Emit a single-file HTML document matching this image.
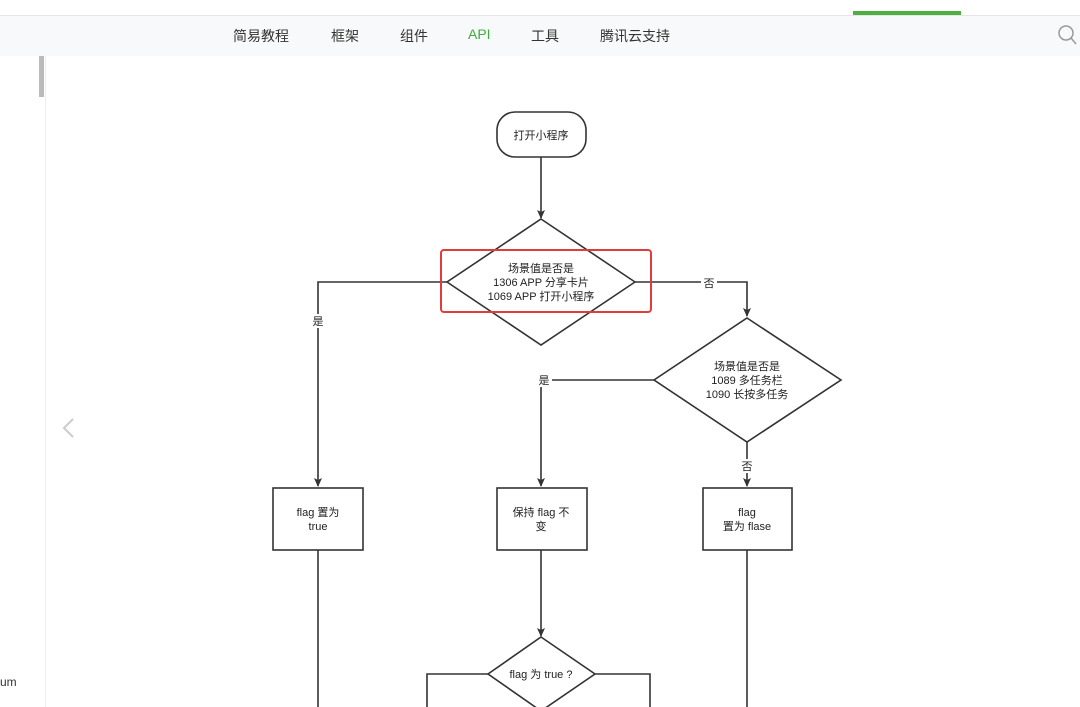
<!DOCTYPE html>
<html><head><meta charset="utf-8"><style>
body{margin:0;width:1080px;height:707px;overflow:hidden;background:#fff;font-family:"Liberation Sans","Noto Sans CJK SC",sans-serif;position:relative}
.nav{position:absolute;top:15px;left:0;width:1080px;height:40px;background:#f8f9fa;border-top:1px solid #e5e5e5}
.nav span{position:absolute;top:10px;font-size:14px;color:#333}
</style></head><body>
<div style="position:absolute;left:853px;top:11px;width:108px;height:4px;background:#4caf3f"></div>
<div class="nav">
<span style="left:233px">简易教程</span><span style="left:331px">框架</span><span style="left:400px">组件</span><span style="left:468px;color:#3cae3c">API</span><span style="left:531px">工具</span><span style="left:600px">腾讯云支持</span>
</div>
<div style="position:absolute;left:45px;top:56px;width:1px;height:651px;background:#eee"></div>
<div style="position:absolute;left:39px;top:56px;width:5px;height:41px;background:#bbb"></div>
<div style="position:absolute;left:0;top:675px;font-size:12px;color:#333">um</div>
<svg width="1080" height="707" style="position:absolute;left:0;top:0" font-size="11" fill="#222">
<defs><marker id="a" markerWidth="10" markerHeight="10" refX="8" refY="5" orient="auto" markerUnits="userSpaceOnUse"><path d="M0,1 L9,5 L0,9 L2,5z" fill="#333"/></marker></defs>
<circle cx="1066" cy="33" r="7" fill="none" stroke="#999" stroke-width="1.5"/><line x1="1071" y1="38" x2="1076" y2="44" stroke="#999" stroke-width="1.5"/>
<polyline points="73,419 64,428 73,437" fill="none" stroke="#ccc" stroke-width="2"/>
<g stroke="#333" stroke-width="1.6" fill="none">
<rect x="497" y="112" width="89" height="45" rx="18" fill="#fff"/>
<line x1="541" y1="157" x2="541" y2="218" marker-end="url(#a)"/>
<polygon points="541,219 635,282 541,345 447,282" fill="#fff"/>
<polyline points="447,282 318,282 318,486" marker-end="url(#a)"/>
<polyline points="635,282 747,282 747,316" marker-end="url(#a)"/>
<polygon points="747,318 841,380 747,442 654,380" fill="#fff"/>
<polyline points="654,380 541,380 541,486" marker-end="url(#a)"/>
<line x1="747" y1="442" x2="747" y2="486" marker-end="url(#a)"/>
<rect x="273" y="488" width="90" height="62" fill="#fff"/>
<rect x="497" y="488" width="90" height="62" fill="#fff"/>
<rect x="703" y="488" width="89" height="62" fill="#fff"/>
<line x1="318" y1="550" x2="318" y2="707"/>
<line x1="747" y1="550" x2="747" y2="707"/>
<line x1="541" y1="550" x2="541" y2="636" marker-end="url(#a)"/>
<polygon points="541,637 595,674 541,711 488,674" fill="#fff"/>
<polyline points="488,674 427,674 427,707"/>
<polyline points="595,674 650,674 650,707"/>
</g>
<rect x="441" y="250" width="210" height="62" rx="3" fill="none" stroke="#e03c3c" stroke-width="2"/>
<g text-anchor="middle">
<text x="541" y="139">打开小程序</text>
<text x="541" y="272">场景值是否是</text><text x="541" y="286">1306 APP 分享卡片</text><text x="541" y="300">1069 APP 打开小程序</text>
<rect x="310" y="314" width="16" height="14" fill="#fff"/><text x="318" y="325">是</text>
<rect x="701" y="276" width="16" height="14" fill="#fff"/><text x="709" y="287">否</text>
<text x="747" y="370">场景值是否是</text><text x="747" y="384">1089 多任务栏</text><text x="747" y="398">1090 长按多任务</text>
<rect x="536" y="373" width="16" height="14" fill="#fff"/><text x="544" y="384">是</text>
<rect x="739" y="459" width="16" height="14" fill="#fff"/><text x="747" y="470">否</text>
<text x="318" y="516">flag 置为</text><text x="318" y="530">true</text>
<text x="541" y="516">保持 flag 不</text><text x="541" y="530">变</text>
<text x="747" y="516">flag</text><text x="747" y="530">置为 flase</text>
<text x="541" y="678">flag 为 true ?</text>
</g>
</svg>
</body></html>
